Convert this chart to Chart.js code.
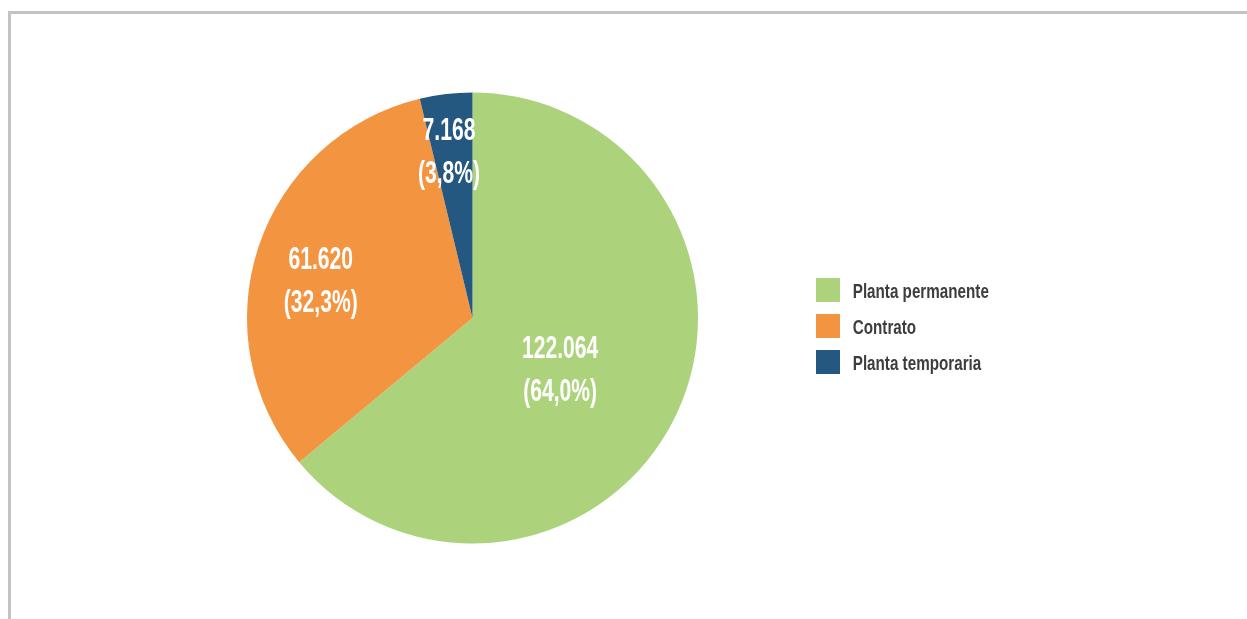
<!DOCTYPE html>
<html><head><meta charset="utf-8">
<script src="https://cdn.jsdelivr.net/npm/chart.js@4.4.1/dist/chart.umd.min.js"></script>
<style>
html,body{margin:0;padding:0;background:#fff;}
#wrap{position:relative;width:1247px;height:619px;overflow:hidden;}
#frame{position:absolute;left:8px;top:11px;width:1300px;height:700px;border-top:3px solid #c3c3c3;border-left:3px solid #c3c3c3;box-sizing:content-box;}
canvas{position:absolute;left:0;top:0;}
</style></head><body>
<div id="wrap"><div id="frame"></div><canvas id="c" width="1247" height="619"></canvas></div>
<script>
// ---- data ----
const categories = ['Planta permanente', 'Contrato', 'Planta temporaria'];
const values = [122064, 61620, 7168];
const colors = ['#acd37b', '#f39440', '#245880'];

// label placement (style): fraction of radius, angle offset in degrees
const labelRadius = [0.447, 0.695, 0.752];
const labelAngleOffset = [4.5, -3.8, -1.2];

const family = '"Liberation Sans", Arial, sans-serif';
const labelScale = 0.66;   // horizontal condensing of slice labels
const legendScale = 0.78;  // horizontal condensing of legend text

function fmtThousands(v) { return String(v).replace(/\B(?=(\d{3})+(?!\d))/g, '.'); }

const labelPlugin = {
  id: 'sliceLabels',
  afterDatasetsDraw(chart) {
    const meta = chart.getDatasetMeta(0);
    const data = chart.data.datasets[0].data;
    const total = data.reduce((a, b) => a + b, 0);
    const ctx = chart.ctx;
    meta.data.forEach((arc, i) => {
      const p = arc.getProps(['x', 'y', 'startAngle', 'endAngle', 'outerRadius'], true);
      const mid = (p.startAngle + p.endAngle) / 2 + labelAngleOffset[i] * Math.PI / 180;
      const r = p.outerRadius * labelRadius[i];
      const x = p.x + Math.cos(mid) * r;
      const y = p.y + Math.sin(mid) * r;
      const lines = [fmtThousands(data[i]), '(' + (data[i] / total * 100).toFixed(1).replace('.', ',') + '%)'];
      ctx.save();
      ctx.fillStyle = '#ffffff';
      ctx.font = 'bold 32px ' + family;
      ctx.textAlign = 'center';
      ctx.textBaseline = 'alphabetic';
      lines.forEach((t, k) => {
        const ly = y + (k === 0 ? -21.5 : 21.5) + 11.5;
        ctx.save();
        ctx.translate(x, ly);
        ctx.scale(labelScale, 1);
        ctx.fillText(t, 0, 0);
        ctx.restore();
      });
      ctx.restore();
    });
  }
};

const chart = new Chart(document.getElementById('c'), {
  type: 'pie',
  data: {
    labels: categories,
    datasets: [{ data: values, backgroundColor: colors, borderWidth: 0, hoverOffset: 0 }]
  },
  options: {
    responsive: false,
    animation: false,
    devicePixelRatio: 1,
    layout: { padding: { top: 92.5, bottom: 75.5, left: 141, right: 200 } },
    plugins: {
      tooltip: { enabled: false },
      legend: {
        position: 'right',
        align: 'center',
        title: { display: true, text: '', font: { size: 10 }, padding: 2 },
        labels: {
          boxWidth: 24, boxHeight: 24, padding: 12,
          color: '#3d3d3d',
          font: { family: family, size: 19.5, weight: 'bold' }
        }
      }
    }
  },
  plugins: [labelPlugin]
});

// condense the legend text horizontally (legend still drawn by Chart.js)
const legend = chart.legend;
const origDraw = legend.draw.bind(legend);
legend.draw = function (area) {
  const ctx = this.ctx;
  const of = ctx.fillText;
  ctx.fillText = function (t, x, y) {
    this.save();
    this.translate(x + 3, y + 3);
    this.scale(legendScale, 1);
    of.call(this, t, 0, 0);
    this.restore();
  };
  try { origDraw(area); } finally { ctx.fillText = of; }
};

const lw = chart.legend.width;
chart.options.layout.padding.right = 1247 - 804 - lw;
chart.update();
</script>
</body></html>
